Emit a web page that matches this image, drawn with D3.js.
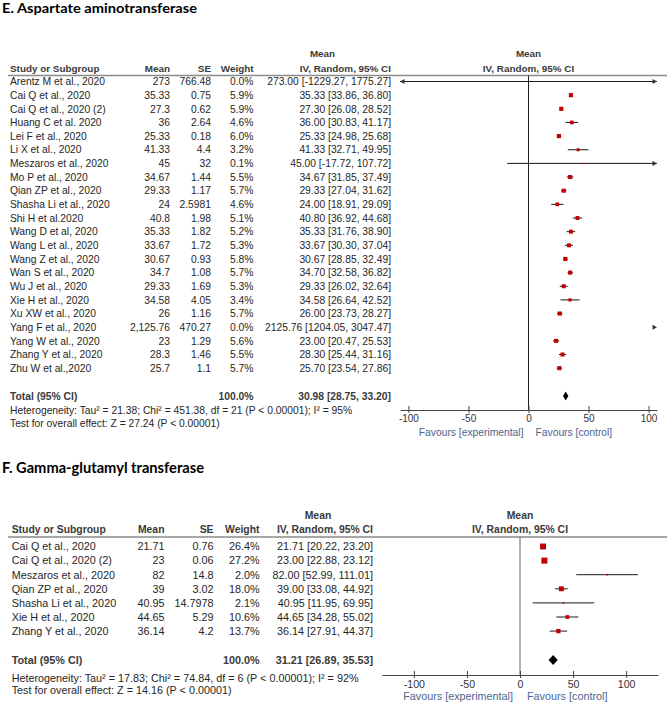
<!DOCTYPE html>
<html>
<head>
<meta charset="utf-8">
<script src="https://cdn.jsdelivr.net/npm/d3@7"></script>
<style>
  body { margin: 0; background: #fff; }
  svg { display: block; font-family: "Liberation Sans", Arial, sans-serif; }
</style>
</head>
<body>
<svg id="chart" width="667" height="704"></svg>
<script>
const axisTicks = [-100, -50, 0, 50, 100]

// E. Aspartate aminotransferase
const titleE = 'E. Aspartate aminotransferase'
const studiesE = [
  'Arentz M et al., 2020', 'Cai Q et al., 2020', 'Cai Q et al., 2020 (2)', 'Huang C et al. 2020',
  'Lei F et al., 2020', 'Li X et al., 2020', 'Meszaros et al., 2020', 'Mo P et al., 2020',
  'Qian ZP et al., 2020', 'Shasha Li et al., 2020', 'Shi H et al.2020', 'Wang D et al, 2020',
  'Wang L et al., 2020', 'Wang Z et al., 2020', 'Wan S et al., 2020', 'Wu J et al., 2020',
  'Xie H et al., 2020', 'Xu XW et al., 2020', 'Yang F et al., 2020', 'Yang W et al., 2020',
  'Zhang Y et al., 2020', 'Zhu W et al.,2020'
]
const meansE = [273, 35.33, 27.3, 36, 25.33, 41.33, 45, 34.67, 29.33, 24, 40.8, 35.33,
  33.67, 30.67, 34.7, 29.33, 34.58, 26, 2125.76, 23, 28.3, 25.7]
const seE = [766.48, 0.75, 0.62, 2.64, 0.18, 4.4, 32, 1.44, 1.17, 2.5981, 1.98, 1.82,
  1.72, 0.93, 1.08, 1.69, 4.05, 1.16, 470.27, 1.29, 1.46, 1.1]
const weightsE = [0.0, 5.9, 5.9, 4.6, 6.0, 3.2, 0.1, 5.5, 5.7, 4.6, 5.1, 5.2,
  5.3, 5.8, 5.7, 5.3, 3.4, 5.7, 0.0, 5.6, 5.5, 5.7]
const lowerE = [-1229.27, 33.86, 26.08, 30.83, 24.98, 32.71, -17.72, 31.85, 27.04, 18.91, 36.92, 31.76,
  30.30, 28.85, 32.58, 26.02, 26.64, 23.73, 1204.05, 20.47, 25.44, 23.54]
const upperE = [1775.27, 36.80, 28.52, 41.17, 25.68, 49.95, 107.72, 37.49, 31.62, 29.09, 44.68, 38.90,
  37.04, 32.49, 36.82, 32.64, 42.52, 28.27, 3047.47, 25.53, 31.16, 27.86]
const totalE = [30.98, 28.75, 33.20]
const hetE = 'Heterogeneity: Tau\u00b2 = 21.38; Chi\u00b2 = 451.38, df = 21 (P < 0.00001); I\u00b2 = 95%'
const testE = 'Test for overall effect: Z = 27.24 (P < 0.00001)'

// F. Gamma-glutamyl transferase
const titleF = 'F. Gamma-glutamyl transferase'
const studiesF = [
  'Cai Q et al., 2020', 'Cai Q et al., 2020 (2)', 'Meszaros et al., 2020', 'Qian ZP et al., 2020',
  'Shasha Li et al., 2020', 'Xie H et al., 2020', 'Zhang Y et al., 2020'
]
const meansF = [21.71, 23, 82, 39, 40.95, 44.65, 36.14]
const seF = [0.76, 0.06, 14.8, 3.02, 14.7978, 5.29, 4.2]
const weightsF = [26.4, 27.2, 2.0, 18.0, 2.1, 10.6, 13.7]
const lowerF = [20.22, 22.88, 52.99, 33.08, 11.95, 34.28, 27.91]
const upperF = [23.20, 23.12, 111.01, 44.92, 69.95, 55.02, 44.37]
const totalF = [31.21, 26.89, 35.53]
const hetF = 'Heterogeneity: Tau\u00b2 = 17.83; Chi\u00b2 = 74.84, df = 6 (P < 0.00001); I\u00b2 = 92%'
const testF = 'Test for overall effect: Z = 14.16 (P < 0.00001)'

const layoutE = {
  titleY: 7.5, titleSize: 14, titleLen: 195,
  meanHeadY: 53.3, headY: 68, lineY: 75.5,
  rowY0: 81.5, rowStep: 13.65,
  totalY: 396, hetY: 410.5, testY: 423.5,
  axisY: 410, tickY: 418.5, favY: 432,
  xName: 10, xMean: 170, xSE: 211, xWeight: 253.5, xCI: 391, xMeanHead: 322.5,
  range: [400, 657], domain: [-107, 107],
  bodySize: 10.3, headSize: 9.9, tickSize: 10, favSize: 10.3, favGap: [5, 7],
  maxSquare: 4.2, diamondH: 9, zeroColor: '#222'
}

const layoutF = {
  titleY: 468, titleSize: 15, titleLen: 202,
  meanHeadY: 515, headY: 529, lineY: 537,
  rowY0: 546.5, rowStep: 14.1,
  totalY: 660, hetY: 678, testY: 690,
  axisY: 675, tickY: 684.5, favY: 696,
  xName: 11.7, xMean: 164.5, xSE: 213.5, xWeight: 259.5, xCI: 373, xMeanHead: 318,
  range: [382, 658], domain: [-130, 130],
  bodySize: 10.8, headSize: 10.4, tickSize: 10.6, favSize: 10.8, favGap: [7, 7],
  maxSquare: 6, diamondH: 10, zeroColor: '#666'
}

const svg = d3.select('#chart')
// plain hyphen for negatives, as in the source figure
const loc = d3.formatLocale({ decimal: '.', thousands: ',', grouping: [3], currency: ['', ''], minus: '-' })
const fmtMean = loc.format(',')
const fmt2 = loc.format('.2f')
const fmtW = (w) => loc.format('.1f')(w) + '%'
const ciText = (m, lo, hi) => `${fmt2(m)} [${fmt2(lo)}, ${fmt2(hi)}]`

function arrow(g, tipX, y, dir) {
  const b = tipX - dir * 4.5
  g.append('path')
    .attr('d', `M${tipX},${y}L${b},${y - 2.5}L${b},${y + 2.5}Z`)
    .attr('fill', '#333')
}

function drawPanel(d, lay) {
  const g = svg.append('g')
  const x = d3.scaleLinear().domain(lay.domain).range(lay.range)
  const rowY = (i) => lay.rowY0 + i * lay.rowStep
  const side = d3.scaleSqrt().domain([0, d3.max(d.weights)]).range([0, lay.maxSquare])
  const [dMin, dMax] = lay.domain

  g.append('text')
    .attr('x', 2).attr('y', lay.titleY).attr('dy', '0.36em')
    .attr('font-family', 'Lato, "Open Sans", sans-serif')
    .attr('font-weight', 700)
    .attr('font-size', lay.titleSize)
    .attr('textLength', lay.titleLen)
    .attr('lengthAdjust', 'spacingAndGlyphs')
    .attr('fill', '#000')
    .text(d.title)

  // column headers
  const head = g.append('g')
    .attr('font-weight', 'bold')
    .attr('font-size', lay.headSize)
    .attr('fill', '#3a3a3a')
  const plotMid = (lay.range[0] + lay.range[1]) / 2
  const headCells = [
    [lay.xMeanHead, lay.meanHeadY, 'middle', 'Mean'],
    [plotMid, lay.meanHeadY, 'middle', 'Mean'],
    [lay.xName, lay.headY, 'start', 'Study or Subgroup'],
    [lay.xMean, lay.headY, 'end', 'Mean'],
    [lay.xSE, lay.headY, 'end', 'SE'],
    [lay.xWeight, lay.headY, 'end', 'Weight'],
    [lay.xCI, lay.headY, 'end', 'IV, Random, 95% CI'],
    [plotMid, lay.headY, 'middle', 'IV, Random, 95% CI']
  ]
  head.selectAll('text')
    .data(headCells)
    .enter()
    .append('text')
    .attr('x', (c) => c[0])
    .attr('y', (c) => c[1])
    .attr('dy', '0.36em')
    .attr('text-anchor', (c) => c[2])
    .text((c) => c[3])

  g.append('line')
    .attr('x1', 8).attr('x2', 667)
    .attr('y1', lay.lineY).attr('y2', lay.lineY)
    .attr('stroke', '#8a8a8a').attr('stroke-width', 1.5)

  // study rows
  const rows = g.selectAll('g.row')
    .data(d.studies)
    .enter()
    .append('g')
    .attr('class', 'row')
    .attr('font-size', lay.bodySize)
    .attr('fill', '#262626')

  const cell = (xPos, anchor, fn) => rows.append('text')
    .attr('x', xPos)
    .attr('y', (_, i) => rowY(i))
    .attr('dy', '0.36em')
    .attr('text-anchor', anchor)
    .text(fn)

  cell(lay.xName, 'start', (s) => s)
  cell(lay.xMean, 'end', (_, i) => fmtMean(d.means[i]))
  cell(lay.xSE, 'end', (_, i) => String(d.se[i]))
  cell(lay.xWeight, 'end', (_, i) => fmtW(d.weights[i]))
  cell(lay.xCI, 'end', (_, i) => ciText(d.means[i], d.lower[i], d.upper[i]))

  // total + footnotes
  const tot = g.append('g')
    .attr('font-weight', 'bold')
    .attr('font-size', lay.bodySize)
    .attr('fill', '#3a3a3a')
  tot.append('text').attr('x', lay.xName).attr('y', lay.totalY).attr('dy', '0.36em')
    .text('Total (95% CI)')
  tot.append('text').attr('x', lay.xWeight).attr('y', lay.totalY).attr('dy', '0.36em')
    .attr('text-anchor', 'end').text(fmtW(100))
  tot.append('text').attr('x', lay.xCI).attr('y', lay.totalY).attr('dy', '0.36em')
    .attr('text-anchor', 'end').text(ciText(d.total[0], d.total[1], d.total[2]))

  g.append('text').attr('x', lay.xName).attr('y', lay.hetY).attr('dy', '0.36em')
    .attr('font-size', lay.bodySize).attr('fill', '#262626').text(d.het)
  g.append('text').attr('x', lay.xName).attr('y', lay.testY).attr('dy', '0.36em')
    .attr('font-size', lay.bodySize).attr('fill', '#262626').text(d.test)

  // forest plot
  g.append('line')
    .attr('x1', x(0)).attr('x2', x(0))
    .attr('y1', lay.lineY).attr('y2', lay.axisY)
    .attr('stroke', lay.zeroColor).attr('stroke-width', 1)

  const plot = g.append('g')
  d.studies.forEach((_, i) => {
    const y = rowY(i)
    const lo = d.lower[i]
    const hi = d.upper[i]
    const m = d.means[i]
    if (hi < dMin) {
      arrow(plot, x(dMin), y, -1)
    } else if (lo > dMax) {
      arrow(plot, x(dMax), y, 1)
    } else {
      plot.append('line')
        .attr('x1', x(Math.max(lo, dMin))).attr('x2', x(Math.min(hi, dMax)))
        .attr('y1', y).attr('y2', y)
        .attr('stroke', '#1a1a1a').attr('stroke-width', 1)
      if (lo < dMin) arrow(plot, x(dMin), y, -1)
      if (hi > dMax) arrow(plot, x(dMax), y, 1)
    }
    if (m >= dMin && m <= dMax && d.weights[i] > 0) {
      const s = Math.max(side(d.weights[i]), 1.3)
      plot.append('rect')
        .attr('x', x(m) - s / 2).attr('y', y - s / 2)
        .attr('width', s).attr('height', s)
        .attr('fill', '#c00000')
    }
  })

  const [tm, tlo, thi] = d.total
  const h = lay.diamondH / 2
  plot.append('path')
    .attr('d', `M${x(tlo)},${lay.totalY}L${x(tm)},${lay.totalY - h}L${x(thi)},${lay.totalY}L${x(tm)},${lay.totalY + h}Z`)
    .attr('fill', '#000')

  const ax = g.append('g')
    .attr('transform', `translate(0,${lay.axisY})`)
    .call(d3.axisBottom(x).tickValues(axisTicks).tickSize(3).tickSizeOuter(0).tickFormat(loc.format('d')))
  ax.select('.domain').attr('stroke', '#444')
  ax.selectAll('.tick line').attr('y1', -4).attr('stroke', '#444')
  ax.selectAll('.tick text')
    .attr('y', lay.tickY - lay.axisY)
    .attr('dy', '0.36em')
    .attr('font-size', lay.tickSize)
    .attr('font-family', '"Liberation Sans", Arial, sans-serif')
    .attr('fill', '#333')

  const fav = g.append('g')
    .attr('font-size', lay.favSize)
    .attr('fill', '#4b6591')
  fav.append('text')
    .attr('x', x(0) - lay.favGap[0]).attr('y', lay.favY).attr('dy', '0.36em')
    .attr('text-anchor', 'end').text('Favours [experimental]')
  fav.append('text')
    .attr('x', x(0) + lay.favGap[1]).attr('y', lay.favY).attr('dy', '0.36em')
    .text('Favours [control]')
}

drawPanel({
  title: titleE, studies: studiesE, means: meansE, se: seE, weights: weightsE,
  lower: lowerE, upper: upperE, total: totalE, het: hetE, test: testE
}, layoutE)

drawPanel({
  title: titleF, studies: studiesF, means: meansF, se: seF, weights: weightsF,
  lower: lowerF, upper: upperF, total: totalF, het: hetF, test: testF
}, layoutF)
</script>
</body>
</html>
